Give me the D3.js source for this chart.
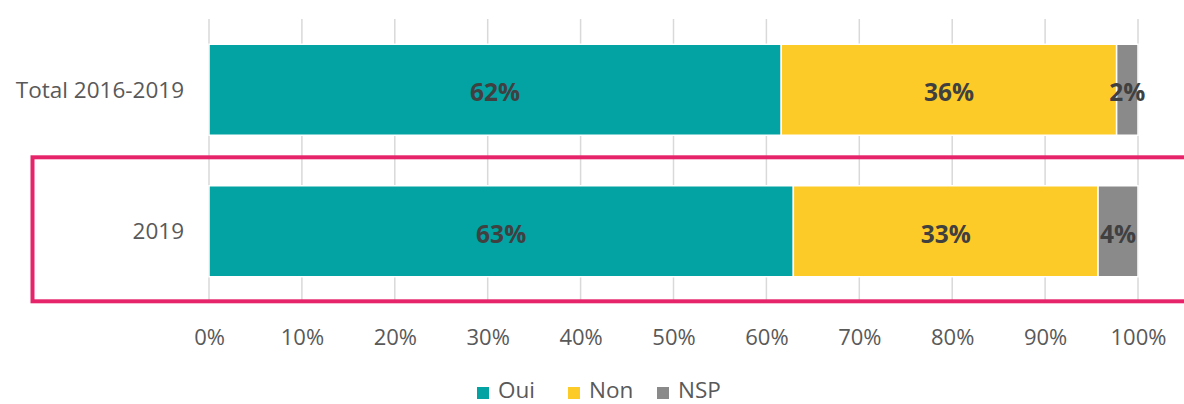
<!DOCTYPE html>
<html><head><meta charset="utf-8">
<script src="https://cdn.jsdelivr.net/npm/d3@7"></script>
<style>body{margin:0;background:#fff;}svg{display:block;font-family:"Open Sans",sans-serif;}</style>
</head><body><svg id="c" width="1184" height="404"></svg>
<script>
const categories = ["Total 2016-2019", "2019"];
const seriesNames = ["Oui", "Non", "NSP"];
const oui = [61.6, 62.9];
const non = [36.1, 32.8];
const nsp = [2.3, 4.3];
const ticks = [0,10,20,30,40,50,60,70,80,90,100];
const colors = ["#03A2A3", "#FDCB28", "#8A8A8A"];

const svg = d3.select("#c");
const x = d3.scaleLinear().domain([0,100]).range([209,1138]);
const y = d3.scaleBand().domain(categories).range([19,302]).paddingInner(0.357).paddingOuter(0.1785);

// gridlines
svg.append("g").selectAll("line").data(ticks).join("line")
  .attr("x1", d=>x(d)).attr("x2", d=>x(d)).attr("y1", 19).attr("y2", 300)
  .attr("stroke", "#D9D9D9").attr("stroke-width", 1.5);

const rows = categories.map((c,i)=>({cat:c, vals:[oui[i], non[i], nsp[i]]}));
const stackData = rows.map(r=>{ let acc=0; return r.vals.map((v,k)=>{ const s={cat:r.cat,k,v,x0:acc,x1:acc+v}; acc+=v; return s; }); }).flat();

svg.append("g").selectAll("rect").data(stackData).join("rect")
  .attr("x", d=>x(d.x0)).attr("width", d=>x(d.x1)-x(d.x0))
  .attr("y", d=>y(d.cat)).attr("height", y.bandwidth())
  .attr("fill", d=>colors[d.k]).attr("stroke", "#fff").attr("stroke-width", 1.5);

svg.append("g").selectAll("text").data(stackData).join("text")
  .attr("x", d=>x((d.x0+d.x1)/2)).attr("y", d=>y(d.cat)+y.bandwidth()/2 + 3)
  .attr("text-anchor","middle").attr("dy","0.35em")
  .attr("font-size", 24.5).attr("font-weight", "bold").attr("fill", "#404040")
  .text(d=>Math.round(d.v)+"%");

// category labels
svg.append("g").selectAll("text").data(categories).join("text")
  .attr("x", 184).attr("y", d=>y(d)+y.bandwidth()/2)
  .attr("text-anchor","end").attr("dy","0.35em")
  .attr("font-size", 22.5).attr("fill", "#595959").text(d=>d);

// x axis labels
const xAxis = d3.axisBottom(x).tickValues(ticks).tickFormat(d=>d+"%").tickSize(0).tickPadding(0);
const ax = svg.append("g").attr("transform","translate(0,345)").call(xAxis);
ax.select(".domain").remove();
ax.selectAll("text").attr("font-size",22).attr("fill","#595959").attr("font-family","Open Sans").attr("dy","0").attr("y",0);

// highlight rectangle
svg.append("rect").attr("x",32.5).attr("y",157.3).attr("width",1170).attr("height",144)
  .attr("fill","none").attr("stroke","#E6246A").attr("stroke-width",4);

// legend
const legX = [477, 568, 657];
const lg = svg.append("g").selectAll("g").data(seriesNames).join("g")
  .attr("transform",(d,i)=>`translate(${legX[i]},387)`);
lg.append("rect").attr("width",12).attr("height",12).attr("fill",(d,i)=>colors[i]);
lg.append("text").attr("x",21).attr("y",10.5).attr("font-size",22.5).attr("fill","#595959").text(d=>d);
</script></body></html>
